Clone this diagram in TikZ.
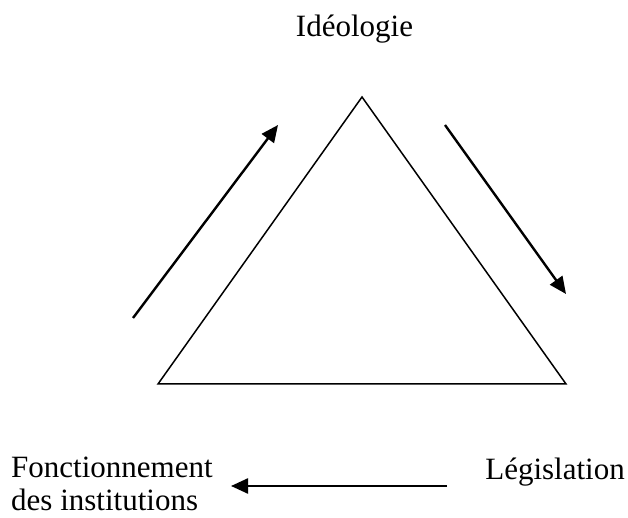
\documentclass[tikz,border=0pt]{standalone}
\usepackage{fontspec}
\setmainfont{Liberation Serif}
\usetikzlibrary{arrows.meta}
\begin{document}
\begin{tikzpicture}[x=1pt,y=1pt,
  lbl/.style={inner sep=0pt, font=\fontsize{31}{33}\selectfont},
  tri/.style={line width=1.5pt, line join=miter},
  flow/.style={line width=2.4pt, -{Triangle[length=17pt,width=15pt]}}]
\useasboundingbox (0,0) rectangle (628,518);
% triangle corners (y = 518 - pixel row)
\coordinate (apex) at (362,421);
\coordinate (bl) at (158,134);
\coordinate (br) at (566,134);
\draw[tri] (apex) -- (bl) -- (br) -- cycle;
% labels
\node[lbl, anchor=base] (ideo) at (354.5,481) {Idéologie};
\node[lbl, anchor=base west, align=left] (fonc) at (11,7.2) {Fonctionnement\\des institutions};
\node[lbl, anchor=base east] (legis) at (625,38) {Législation};
% arrows
\coordinate (a1s) at (133,200);
\coordinate (a1e) at (278,393);
\coordinate (a2s) at (445,393);
\coordinate (a2e) at (566,224);
\coordinate (a3s) at (447,32);
\coordinate (a3e) at (231,32);
\draw[flow] (a1s) -- (a1e);
\draw[flow] (a2s) -- (a2e);
\draw[flow] (a3s) -- (a3e);
\end{tikzpicture}
\end{document}
